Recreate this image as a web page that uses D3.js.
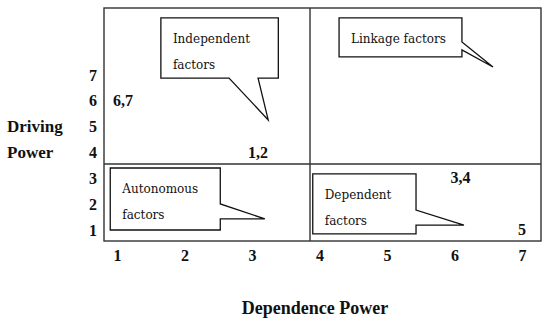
<!DOCTYPE html>
<html>
<head>
<meta charset="utf-8">
<script src="https://cdn.jsdelivr.net/npm/d3@7"></script>
<style>
  html, body { margin: 0; padding: 0; background: #fff; }
  svg { display: block; }
</style>
</head>
<body>
<svg id="chart" width="550" height="324"></svg>
<script>
// ---- data ----
const xTicks = [1, 2, 3, 4, 5, 6, 7];
const yTicks = [1, 2, 3, 4, 5, 6, 7];
const pointLabels = ["6,7", "1,2", "3,4", "5"];
const pointX = [1, 3, 6, 7];
const pointY = [6, 4, 3, 1];
const xTitle = "Dependence Power";
const yTitle = ["Driving", "Power"];
const quadrantNames = [["Independent", "factors"], ["Linkage factors"], ["Autonomous", "factors"], ["Dependent", "factors"]];
// callout boxes in data units: [x0, x1, yTop, yBottom]
const calloutBox = [[1.65, 3.39, 9.21, 6.88], [4.29, 6.11, 9.21, 7.70], [0.90, 2.53, 3.40, 1.00], [3.90, 5.43, 3.17, 0.85]];
// pointer tip (data units), and pointer base (two values along the edge)
const calloutTip = [[3.24, 5.26], [6.57, 7.31], [3.19, 1.43], [6.14, 1.19]];
const calloutSide = ["bottom", "right", "right", "right"];
const calloutBase = [[3.09, 2.66], [8.28, 7.97], [2.01, 1.43], [1.77, 1.19]];

// ---- layout ----
const svg = d3.select("#chart");
const x = d3.scaleLinear().domain([1, 7]).range([117, 522]);
const y = d3.scaleLinear().domain([1, 7]).range([230, 75]);
const frame = { left: 104, right: 541, top: 8, bottom: 241, xDiv: 310, yDiv: 164 };
const serif = "'Liberation Serif', 'Times New Roman', serif";
const boxFont = "'DejaVu Serif', serif";
const lineColor = "#333";

// frame
svg.append("rect")
  .attr("x", frame.left).attr("y", frame.top)
  .attr("width", frame.right - frame.left).attr("height", frame.bottom - frame.top)
  .attr("fill", "none").attr("stroke", lineColor).attr("stroke-width", 1.4);
svg.append("line")
  .attr("x1", frame.xDiv).attr("x2", frame.xDiv).attr("y1", frame.top).attr("y2", frame.bottom)
  .attr("stroke", lineColor).attr("stroke-width", 1.4);
svg.append("line")
  .attr("x1", frame.left).attr("x2", frame.right).attr("y1", frame.yDiv).attr("y2", frame.yDiv)
  .attr("stroke", lineColor).attr("stroke-width", 1.4);

// axes (labels only)
const xAxis = d3.axisBottom(x).tickValues(xTicks).tickFormat(d3.format("d")).tickSize(0).tickPadding(0);
const gx = svg.append("g").attr("transform", "translate(0,250)").call(xAxis);
gx.select(".domain").remove();
gx.selectAll("text").attr("font-family", serif).attr("font-weight", "bold")
  .attr("font-size", 16).attr("fill", "#111").attr("dy", "0.71em");

const yAxis = d3.axisLeft(y).tickValues(yTicks).tickFormat(d3.format("d")).tickSize(0).tickPadding(0);
const gy = svg.append("g").attr("transform", "translate(97,0)").call(yAxis);
gy.select(".domain").remove();
gy.selectAll("text").attr("font-family", serif).attr("font-weight", "bold")
  .attr("font-size", 16).attr("fill", "#111");

// titles
svg.append("text").text(xTitle)
  .attr("x", 315).attr("y", 314).attr("text-anchor", "middle")
  .attr("font-family", serif).attr("font-weight", "bold").attr("font-size", 18).attr("fill", "#111");
svg.selectAll("text.ytitle").data(yTitle).enter().append("text")
  .attr("class", "ytitle").text(d => d)
  .attr("x", 7).attr("y", (d, i) => y(5 - i)).attr("dy", "0.32em")
  .attr("font-family", serif).attr("font-weight", "bold").attr("font-size", 17).attr("fill", "#111");

// callouts
calloutBox.forEach((b, i) => {
  const x0 = x(b[0]), x1 = x(b[1]), yt = y(b[2]), yb = y(b[3]);
  const tx = x(calloutTip[i][0]), ty = y(calloutTip[i][1]);
  const path = d3.path();
  path.moveTo(x0, yt);
  path.lineTo(x1, yt);
  if (calloutSide[i] === "right") {
    path.lineTo(x1, y(calloutBase[i][0]));
    path.lineTo(tx, ty);
    path.lineTo(x1, y(calloutBase[i][1]));
    path.lineTo(x1, yb);
    path.lineTo(x0, yb);
  } else {
    path.lineTo(x1, yb);
    path.lineTo(x(calloutBase[i][0]), yb);
    path.lineTo(tx, ty);
    path.lineTo(x(calloutBase[i][1]), yb);
    path.lineTo(x0, yb);
  }
  path.closePath();
  svg.append("path").attr("d", path.toString())
    .attr("fill", "#fff").attr("stroke", "#111").attr("stroke-width", 1.3)
    .attr("stroke-linejoin", "miter");
  quadrantNames[i].forEach((t, j) => {
    svg.append("text").text(t)
      .attr("x", x0 + 12).attr("y", yt + 25 + j * 26)
      .attr("font-family", boxFont).attr("font-size", 12).attr("fill", "#111");
  });
});

// point labels
svg.selectAll("text.pt").data(pointLabels).enter().append("text")
  .attr("class", "pt").text(d => d)
  .attr("x", (d, i) => x(pointX[i]) - 4).attr("y", (d, i) => y(pointY[i])).attr("dy", "0.32em")
  .attr("font-family", serif).attr("font-weight", "bold").attr("font-size", 16).attr("fill", "#111");
</script>
</body>
</html>
